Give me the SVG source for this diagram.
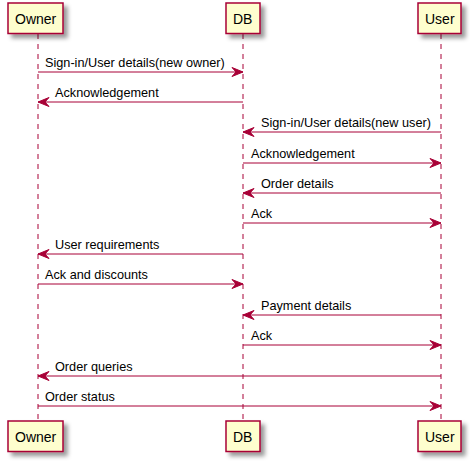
<svg xmlns="http://www.w3.org/2000/svg" width="470" height="464" viewBox="0 0 470 464">
<defs>
<filter id="sh" x="-1" y="-1" width="300%" height="300%">
<feGaussianBlur result="b" stdDeviation="2"/>
<feColorMatrix type="matrix" in="b" result="c" values="0 0 0 0 0 0 0 0 0 0 0 0 0 0 0 0 0 0 .4 0"/>
<feOffset result="o" dx="4" dy="4" in="c"/>
<feBlend in="SourceGraphic" in2="o" mode="normal"/>
</filter>
<marker id="ah" markerWidth="14" markerHeight="12" refX="12" refY="6" orient="auto-start-reverse" markerUnits="userSpaceOnUse">
<polygon points="1,1.5 12,6 1,10.5 5,6" fill="#A80036" stroke="#A80036"/>
</marker>
</defs>
<style>
.life{stroke:#A80036;stroke-width:1;stroke-dasharray:5,5;fill:none}
.box{fill:#FEFECE;stroke:#A80036;stroke-width:1.5;filter:url(#sh)}
.pt{font-family:"Liberation Sans",Arial,sans-serif;font-size:14px;fill:#000}
.msg{stroke:#A80036;stroke-width:1;fill:none;marker-end:url(#ah)}
.mt{font-family:"Liberation Sans",Arial,sans-serif;font-size:12.7px;fill:#000}
</style>
<g id="lifelines">
<line class="life" x1="38" y1="34" x2="38" y2="422"/>
<line class="life" x1="243" y1="34" x2="243" y2="422"/>
<line class="life" x1="441" y1="34" x2="441" y2="422"/>
</g>
<g id="Owner">
<rect class="box" x="8" y="3" width="55" height="30.5"/>
<text class="pt" x="15" y="23.5">Owner</text>
<rect class="box" x="8" y="421" width="55" height="30.5"/>
<text class="pt" x="15" y="441.5">Owner</text>
</g>
<g id="DB">
<rect class="box" x="226" y="3" width="34" height="30.5"/>
<text class="pt" x="233" y="23.5">DB</text>
<rect class="box" x="226" y="421" width="34" height="30.5"/>
<text class="pt" x="233" y="441.5">DB</text>
</g>
<g id="User">
<rect class="box" x="418" y="3" width="43" height="30.5"/>
<text class="pt" x="425" y="23.5">User</text>
<rect class="box" x="418" y="421" width="43" height="30.5"/>
<text class="pt" x="425" y="441.5">User</text>
</g>
<g id="connectors">
<line class="msg" x1="38" y1="72" x2="243" y2="72"/>
<text class="mt" x="45" y="67">Sign-in/User details(new owner)</text>
<line class="msg" x1="243" y1="102" x2="38" y2="102"/>
<text class="mt" x="55" y="97">Acknowledgement</text>
<line class="msg" x1="441" y1="132" x2="243" y2="132"/>
<text class="mt" x="261" y="127">Sign-in/User details(new user)</text>
<line class="msg" x1="243" y1="163" x2="441" y2="163"/>
<text class="mt" x="251" y="158">Acknowledgement</text>
<line class="msg" x1="441" y1="193" x2="243" y2="193"/>
<text class="mt" x="261" y="188">Order details</text>
<line class="msg" x1="243" y1="223" x2="441" y2="223"/>
<text class="mt" x="251" y="218">Ack</text>
<line class="msg" x1="243" y1="254" x2="38" y2="254"/>
<text class="mt" x="55" y="249">User requirements</text>
<line class="msg" x1="38" y1="284" x2="243" y2="284"/>
<text class="mt" x="45" y="279">Ack and discounts</text>
<line class="msg" x1="441" y1="315" x2="243" y2="315"/>
<text class="mt" x="261" y="310">Payment details</text>
<line class="msg" x1="243" y1="345" x2="441" y2="345"/>
<text class="mt" x="251" y="340">Ack</text>
<line class="msg" x1="441" y1="376" x2="38" y2="376"/>
<text class="mt" x="55" y="371">Order queries</text>
<line class="msg" x1="38" y1="406" x2="441" y2="406"/>
<text class="mt" x="45" y="401">Order status</text>
</g>
</svg>
